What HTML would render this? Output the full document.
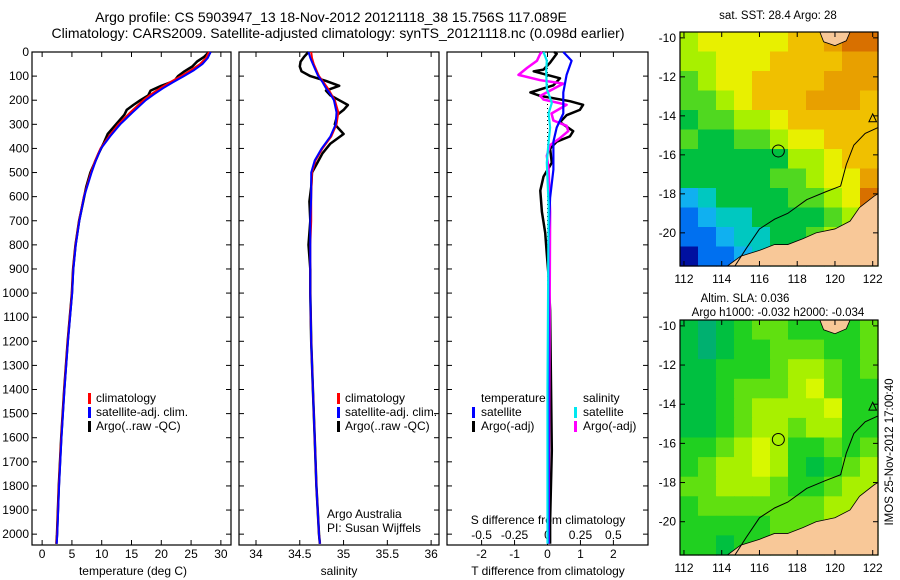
<!DOCTYPE html>
<html><head><meta charset="utf-8"><style>
html,body{margin:0;padding:0;background:#fff;}
svg{display:block;font-family:"Liberation Sans",sans-serif;}
text{fill:#000;}
</style></head><body>
<svg id="fig" width="900" height="580" viewBox="0 0 900 580">
<text x="331" y="22" font-size="14" text-anchor="middle">Argo profile: CS 5903947_13 18-Nov-2012 20121118_38 15.756S 117.089E</text>
<text x="338" y="38" font-size="14" text-anchor="middle">Climatology: CARS2009. Satellite-adjusted climatology: synTS_20121118.nc (0.098d earlier)</text>
<g id="g1"></g>
<g id="g2"></g>
<g id="g3"></g>
<g id="m1"></g>
<g id="m2"></g>
<text x="778" y="19" font-size="11.5" text-anchor="middle">sat. SST: 28.4  Argo: 28</text>
<text x="745" y="302" font-size="11.5" text-anchor="middle">Altim. SLA: 0.036</text>
<text x="778" y="316" font-size="11.5" text-anchor="middle">Argo h1000: -0.032 h2000: -0.034</text>
<text transform="translate(893,452) rotate(-90)" font-size="11.5" text-anchor="middle">IMOS 25-Nov-2012 17:00:40</text>
</svg>
<script>
// ---------- data ----------
const depthTicks=[0,100,200,300,400,500,600,700,800,900,1000,1100,1200,1300,1400,1500,1600,1700,1800,1900,2000];
const tempTicks=[0,5,10,15,20,25,30];
const salTicks=[34,34.5,35,35.5,36];
const tdiffTicks=[-2,-1,0,1,2];
const sdiffTicks=[-0.5,-0.25,0,0.25,0.5];
const tdiffLabels=["-2","-1","0","1","2"];
const sdiffLabels=["-0.5","-0.25","0","0.25","0.5"];

const climDepth=[0,25,50,75,100,125,150,175,200,250,300,350,400,450,500,600,700,800,900,1000,1200,1400,1600,1800,2000,2040];
const climTemp=[28.0,27.5,26.5,25.0,23.3,21.5,19.8,18.3,17.0,14.8,12.8,11.2,9.8,8.9,8.2,7.0,6.2,5.6,5.2,5.0,4.3,3.7,3.2,2.8,2.5,2.4];
const satTemp=[28.3,27.8,26.9,25.5,23.8,22.0,20.3,18.8,17.4,15.2,13.1,11.4,9.9,9.0,8.3,7.05,6.25,5.65,5.25,5.05,4.35,3.75,3.25,2.85,2.55,2.45];
const argoDepth=[0,20,40,60,80,100,120,140,160,180,200,220,240,260,300,340,380,420,460,500,560,620,700,800,900,1000,1200,1400,1600,1800,2000,2040];
const argoTemp=[28.0,27.2,26.0,25.2,23.9,22.8,22.2,20.0,18.2,17.8,16.5,15.3,14.2,13.8,12.4,11.0,10.3,9.5,8.8,8.1,7.4,6.9,6.2,5.6,5.2,5.0,4.3,3.7,3.2,2.8,2.5,2.4];

const climSal=[34.63,34.64,34.66,34.69,34.72,34.77,34.82,34.86,34.90,34.94,34.92,34.86,34.76,34.68,34.64,34.63,34.63,34.62,34.62,34.62,34.63,34.65,34.67,34.69,34.72,34.73];
const satSal=[34.6,34.62,34.65,34.68,34.71,34.76,34.8,34.85,34.89,34.92,34.91,34.85,34.75,34.67,34.63,34.63,34.62,34.62,34.62,34.62,34.63,34.65,34.67,34.69,34.72,34.73];
const argoSal=[34.60,34.55,34.51,34.50,34.52,34.62,34.80,34.95,34.80,34.85,34.95,35.05,35.00,34.93,34.90,35.00,34.85,34.76,34.70,34.64,34.63,34.61,34.62,34.60,34.62,34.62,34.63,34.65,34.67,34.69,34.72,34.73];

const dTdepth=[0,7,44,73,80,109,138,168,182,204,219,240,262,291,328,350,372,401,459,517,575,663,750,838,925,1071,1654,1945,2040];
const dTargo=[0.2,0.28,0.08,-0.12,-0.42,0.38,0.18,-0.52,-0.22,0.68,1.08,0.98,0.58,0.38,0.78,0.68,0.28,0.08,0.13,-0.12,-0.22,-0.17,-0.07,-0.02,0.03,0.08,0.13,0.08,0.08];
const dTsatDepth=[0,36,95,168,255,313,372,488,605,780,1945,2040];
const dTsat=[0.48,0.73,0.58,0.48,0.48,0.28,0.18,0.18,0.08,0.03,0.03,0.03];
const dSdepth=[0,7,36,66,95,117,131,160,182,197,219,255,284,306,328,357,386,430,488,663,1945,2040];
const dSargo=[-0.04,-0.055,-0.08,-0.155,-0.22,-0.055,0.12,0.02,-0.055,-0.03,0.145,0.03,0.045,0.145,0.158,0.095,0.02,-0.005,0.008,0.02,0.008,0.008];
const dSsatDepth=[0,36,80,153,211,255,313,372,459,634,1399,2040];
const dSsat=[-0.03,-0.005,-0.01,-0.005,0.033,0.008,0.02,0.008,-0.005,0.008,0.0,0.0];

// maps
const sstRows=["677777889AA","66777888899","56778888999","55678889998","45566788888","54455677888","44444466788","44444556779","2344445567A","12334444568","11233445667","01123444566"];
const slaRows=["10123322223","10122333223","11222344323","11233345322","11234444522","11234434422","22345422323","23445421234","33444322344","23333333444","22222333444","22122333444"];

const NS='http://www.w3.org/2000/svg';
function mk(parent,tag,attrs){const e=document.createElementNS(NS,tag);for(const k in attrs)e.setAttribute(k,attrs[k]);parent.appendChild(e);return e;}
function txt(parent,x,y,s,anchor,size){const t=mk(parent,'text',{x:x,y:y,'font-size':size||12,'text-anchor':anchor||'middle'});t.textContent=s;return t;}

const Y0=52,Y1=545,DMAX=2045;
function yD(d){return Y0+d/DMAX*(Y1-Y0);}

function panel(g,x0,x1,xmin,xmax,xticks,xlabels,leftLabels,tickY){
  const xs=v=>x0+(v-xmin)/(xmax-xmin)*(x1-x0);
  const fr=mk(g,'rect',{x:x0,y:Y0,width:x1-x0,height:Y1-Y0,fill:'none',stroke:'#000','stroke-width':1.2});
  
  
  depthTicks.forEach(d=>{
    const y=yD(d);
    mk(g,'line',{x1:x0,y1:y,x2:x0+5,y2:y,stroke:'#000'});
    mk(g,'line',{x1:x1,y1:y,x2:x1-5,y2:y,stroke:'#000'});
    if(leftLabels){const t=txt(g,x0-3,y+4,String(d),'end',12);
      
      }
  });
  xticks.forEach((v,i)=>{
    const x=xs(v);
    mk(g,'line',{x1:x,y1:Y1,x2:x,y2:Y1-5,stroke:'#000'});
    mk(g,'line',{x1:x,y1:Y0,x2:x,y2:Y0+5,stroke:'#000'});
    if(xlabels){const t=txt(g,x,tickY,xlabels[i],'middle',12);
      
      }
  });
  return xs;
}
function line(g,xs,depths,vals,color,w,name){
  const pts=depths.map((d,i)=>xs(vals[i]).toFixed(1)+','+yD(d).toFixed(1)).join(' ');
  const p=mk(g,'polyline',{points:pts,fill:'none',stroke:color,'stroke-width':w,'stroke-linejoin':'round'});
  
  
}
function legMark(g,x,y,color){mk(g,'rect',{x:x,y:y-10,width:3,height:11,fill:color});}

// panel 1
const g1=document.getElementById('g1');
const xT=panel(g1,32,231,-1.7,31.7,tempTicks,tempTicks.map(String),true,558);
line(g1,xT,argoDepth,argoTemp,'#000',2.5,'argo-temperature-line');
line(g1,xT,climDepth,climTemp,'#f00',2,'clim-temperature-line');
line(g1,xT,climDepth,satTemp,'#0000ff',2,'sat-temperature-line');
txt(g1,133,575,'temperature (deg C)','middle',12);
legMark(g1,88,403,'#f00');txt(g1,96,402,'climatology','start',12);
legMark(g1,88,417,'#00f');txt(g1,96,416,'satellite-adj. clim.','start',12);
legMark(g1,88,431,'#000');txt(g1,96,430,'Argo(..raw -QC)','start',12);

// panel 2
const g2=document.getElementById('g2');
const xS=panel(g2,239,439,33.806,36.09,salTicks,['34','34.5','35','35.5','36'],false,558);
line(g2,xS,argoDepth,argoSal,'#000',2.5,'argo-salinity-line');
line(g2,xS,climDepth,climSal,'#f00',2,'clim-salinity-line');
line(g2,xS,climDepth,satSal,'#0000ff',2,'sat-salinity-line');
txt(g2,339,575,'salinity','middle',12);
legMark(g2,337,403,'#f00');txt(g2,345,402,'climatology','start',12);
legMark(g2,337,417,'#00f');txt(g2,345,416,'satellite-adj. clim.','start',12);
legMark(g2,337,431,'#000');txt(g2,345,430,'Argo(..raw -QC)','start',12);
txt(g2,327,518,'Argo Australia','start',12);
txt(g2,327,532,'PI: Susan Wijffels','start',12);

// panel 3
const g3=document.getElementById('g3');
const xD=panel(g3,447,648,-3.05,3.05,tdiffTicks,tdiffLabels,false,558);
const xSS=v=>xD(v*4);
sdiffTicks.forEach((v,i)=>{const t=txt(g3,xSS(v),539,sdiffLabels[i],'middle',12);
  
  });
txt(g3,548,524,'S difference from climatology','middle',12);
txt(g3,548,575,'T difference from climatology','middle',12);
mk(g3,'line',{x1:xD(0),y1:Y0,x2:xD(0),y2:Y1,stroke:'#000','stroke-dasharray':'1,3'});
line(g3,xD,dTdepth,dTargo,'#000',2.5,'argo-tdiff-line');
line(g3,xSS,dSdepth,dSargo,'#ff00ff',2.5,'argo-sdiff-line');
line(g3,xD,dTsatDepth,dTsat,'#0000ff',2.2,'sat-tdiff-line');
line(g3,xSS,dSsatDepth,dSsat,'#00e8f0',2.2,'sat-sdiff-line');
txt(g3,481,402,'temperature','start',12);
txt(g3,583,402,'salinity','start',12);
legMark(g3,472,417,'#00f');txt(g3,481,416,'satellite','start',12);
legMark(g3,472,431,'#000');txt(g3,481,430,'Argo(-adj)','start',12);
legMark(g3,574,417,'#00e8f0');txt(g3,583,416,'satellite','start',12);
legMark(g3,574,431,'#ff00ff');txt(g3,583,430,'Argo(-adj)','start',12);

// maps
const sstCol={'0':'#0010a0','1':'#0070f0','2':'#10b0f0','3':'#00c8c0','4':'#00c040','5':'#50d820','6':'#a8f000','7':'#e8f000','8':'#f0c000','9':'#e8a000','A':'#d87000'};
const slaCol={'0':'#00b070','1':'#00c040','2':'#20d020','3':'#60e010','4':'#a8f000','5':'#d8f800'};
const LON0=111.79,LON1=122.28,LAT0=-9.7,LAT1=-21.7;
function drawMap(id,mx0,my0,mx1,my1,rows,cmap){
  const g=document.getElementById(id);
  const px=lon=>mx0+(lon-LON0)/(LON1-LON0)*(mx1-mx0);
  const py=lat=>my0+(lat-LAT0)/(LAT1-LAT0)*(my1-my0);
  const nr=rows.length,nc=rows[0].length,cw=(mx1-mx0)/nc,ch=(my1-my0)/nr;
  rows.forEach((r,i)=>{for(let j=0;j<nc;j++){
    mk(g,'rect',{x:(mx0+j*cw).toFixed(1),y:(my0+i*ch).toFixed(1),width:(cw+0.6).toFixed(1),height:(ch+0.6).toFixed(1),fill:cmap[r[j]]});}});
  const land=[[114.3,-21.7],[115,-21.2],[116,-20.9],[116.8,-20.6],[117.5,-20.6],[118.3,-20.3],[119,-20.0],[120,-19.8],[120.8,-19.4],[121.3,-18.7],[122.1,-18.1],[122.28,-18.0],[122.28,-21.7]];
  const lp=mk(g,'polygon',{points:land.map(p=>px(p[0])+','+py(p[1])).join(' '),fill:'#f8c898',stroke:'#000','stroke-width':0.8});
  
  
  const land2=[[119.2,-9.7],[119.4,-10.2],[120.0,-10.4],[120.6,-10.15],[120.8,-9.7]];
  mk(g,'polygon',{points:land2.map(p=>px(p[0])+','+py(p[1])).join(' '),fill:'#f8c898',stroke:'#000','stroke-width':0.8});
  const iso=[[114.7,-21.7],[115.3,-20.8],[116,-19.8],[116.8,-19.3],[117.5,-19.0],[118.5,-18.3],[119.5,-17.9],[120.3,-17.6],[120.6,-16.5],[121,-15.5],[121.6,-14.9],[122.28,-14.6]];
  mk(g,'polyline',{points:iso.map(p=>px(p[0])+','+py(p[1])).join(' '),fill:'none',stroke:'#000','stroke-width':1});
  mk(g,'polygon',{points:[[121.8,-14.3],[122.0,-13.9],[122.2,-14.3]].map(p=>px(p[0])+','+py(p[1])).join(' '),fill:'none',stroke:'#000','stroke-width':1});
  const c=mk(g,'circle',{cx:px(117.0),cy:py(-15.8),r:6,fill:'none',stroke:'#000','stroke-width':1});
  
  
  mk(g,'rect',{x:mx0,y:my0,width:mx1-mx0,height:my1-my0,fill:'none',stroke:'#000','stroke-width':1.2});
  [-10,-12,-14,-16,-18,-20].forEach(l=>{const y=py(l);
    mk(g,'line',{x1:mx0,y1:y,x2:mx0+5,y2:y,stroke:'#000'});
    mk(g,'line',{x1:mx1,y1:y,x2:mx1-5,y2:y,stroke:'#000'});
    const t=txt(g,mx0-4,y+4,String(l),'end',12);
    
    });
  [112,114,116,118,120,122].forEach(l=>{const x=px(l);
    mk(g,'line',{x1:x,y1:my1,x2:x,y2:my1-5,stroke:'#000'});
    mk(g,'line',{x1:x,y1:my0,x2:x,y2:my0+5,stroke:'#000'});
    const t=txt(g,x,my1+17,String(l),'middle',12);
    
    });
}
drawMap('m1',680,32,878,266,sstRows,sstCol);
drawMap('m2',680,320,878,555,slaRows,slaCol);
</script>
</body></html>
